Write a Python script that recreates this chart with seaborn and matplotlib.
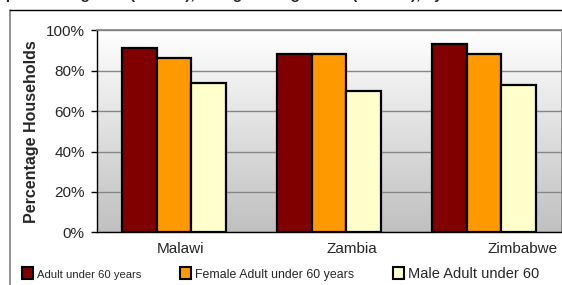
import numpy as np
import pandas as pd
import matplotlib
matplotlib.use('Agg')
import matplotlib.pyplot as plt
import matplotlib.transforms as mtransforms
from matplotlib import font_manager
from matplotlib.colors import LinearSegmentedColormap
from matplotlib.lines import Line2D
from matplotlib.patches import Patch
from matplotlib.ticker import FuncFormatter
import seaborn as sns

countries = ['Malawi', 'Zambia', 'Zimbabwe']
groups = ['Adult under 60 years', 'Female Adult under 60 years', 'Male Adult under 60']
adult = [91.2, 88.3, 93.3]
female = [86.3, 88.4, 88.4]
male = [73.8, 69.8, 72.9]
colors = ['#800000', '#ff9900', '#ffffcc']
yticks = [0, 20, 40, 60, 80, 100]
title = 'Orphan Caregivers (Malawi), Caregivers aged 15+ (Zambia), by Gender of Head'

df = pd.DataFrame({
    'country': countries * 3,
    'group': np.repeat(groups, len(countries)),
    'pct': adult + female + male,
})

sns.set_style('white')
plt.rcParams['font.family'] = ['Liberation Sans', 'DejaVu Sans']

W, H = 562, 285
fig = plt.figure(figsize=(W / 100, H / 100), dpi=100)
ax = fig.add_axes([96.5 / W, (H - 232.3) / H, 465 / W, 202 / H])

# plot area gradient, white at top to grey at bottom
grad = np.linspace(0, 1, 256).reshape(-1, 1)
cmap = LinearSegmentedColormap.from_list('bg', ['#ffffff', '#c0c0c0'])
ax.imshow(grad, extent=[0, 1, 0, 1], transform=ax.transAxes, aspect='auto',
          cmap=cmap, zorder=0)

sns.barplot(data=df, x='country', y='pct', hue='group', hue_order=groups,
            palette=colors, width=0.67, edgecolor='black', linewidth=1.6,
            saturation=1, legend=False, ax=ax, zorder=2)

ax.set_xlim(-0.5, 2.5)
ax.set_ylim(0, 100)
ax.set_yticks(yticks)
ax.yaxis.set_major_formatter(FuncFormatter(lambda v, p: f'{v:.0f}%'))
ax.yaxis.grid(True, color='#868686', lw=1)
ax.set_axisbelow(True)

ax.set_xticks([0, 1, 2], countries)
ax.set_xticks([-0.5, 0.5, 1.5, 2.5], minor=True)
ax.tick_params(axis='x', which='major', length=0, pad=7, labelsize=11)
ax.tick_params(axis='x', which='minor', length=4.5, width=1, color='black', direction='out')
ax.tick_params(axis='y', length=4.5, width=1, color='black', pad=4, labelsize=11, left=True)
for lbl, dx in zip(ax.get_xticklabels(), [6, 23, 39]):
    lbl.set_transform(lbl.get_transform() + mtransforms.ScaledTranslation(dx / 100, 0, fig.dpi_scale_trans))

ax.set_xlabel('')
ax.set_ylabel('Percentage Households', fontweight='bold', fontsize=11.5)
ax.yaxis.set_label_coords(-0.139, 0.5)
ax.yaxis.label.set_verticalalignment('center')

for s in ['left', 'bottom']:
    ax.spines[s].set_color('black')
    ax.spines[s].set_linewidth(1)
for s in ['top', 'right']:
    ax.spines[s].set_visible(True)
    ax.spines[s].set_color('#808080')
    ax.spines[s].set_linewidth(1.2)

# chart area border (cropped)
fig.add_artist(Line2D([9.5 / W, 9.5 / W], [0, 1 - 9.5 / H], transform=fig.transFigure,
                      color='#808080', lw=1.2))
fig.add_artist(Line2D([9.5 / W, 1], [1 - 9.5 / H, 1 - 9.5 / H], transform=fig.transFigure,
                      color='black', lw=1))

# title is cropped in the source, only its lower edge shows
fig.text(-12 / W, 1 + 1 / H, title, fontweight='bold', fontsize=11, va='baseline', ha='left')

handles = [Patch(facecolor=c, edgecolor='black', lw=1.5) for c in colors]
leg = fig.legend(handles, groups, ncol=3, loc='center left',
                 bbox_to_anchor=(22 / W, (H - 274) / H), frameon=False,
                 fontsize=10.5, handlelength=0.75, handleheight=0.95,
                 handletextpad=0.25, columnspacing=2.7, borderaxespad=0, borderpad=0)

names = {f.name for f in font_manager.fontManager.ttflist}
for t, size in zip(leg.get_texts()[:2], [8.1, 8.9]):
    if 'Liberation Sans Narrow' in names:
        t.set_family(['Liberation Sans Narrow'])
        t.set_fontsize(size * 1.2)
    else:
        t.set_fontsize(size)

fig.savefig('out.png', dpi=100)
